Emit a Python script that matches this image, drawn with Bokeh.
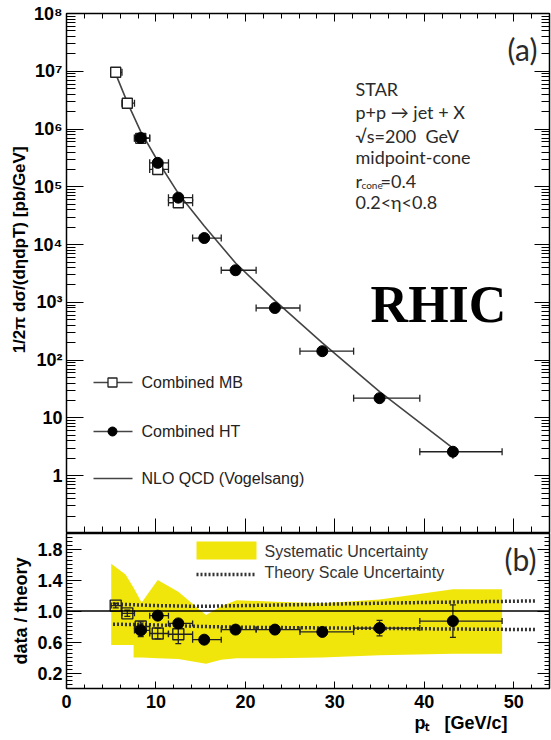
import math
from bokeh.plotting import figure
from bokeh.layouts import column
from bokeh.models import (ColumnDataSource, FixedTicker, LinearAxis, LogAxis,
                          Label, Span, Range1d, Title)
from bokeh.embed import file_html
from bokeh.resources import INLINE

# ---- jet pT bins [GeV/c] ----
bin_lo = [5.0, 6.2, 7.6, 9.3, 11.4, 14.1, 17.3, 21.2, 26.1, 32.1, 39.5]
bin_hi = [6.2, 7.6, 9.3, 11.4, 14.1, 17.3, 21.2, 26.1, 32.1, 39.5, 48.7]
pt_center = [5.5, 6.8, 8.3, 10.2, 12.5, 15.4, 18.9, 23.3, 28.6, 35.0, 43.2]

# minimum-bias sample covers the first five bins, high-tower bins 3..11
mb_bins = [0, 1, 2, 3, 4]
ht_bins = [2, 3, 4, 5, 6, 7, 8, 9, 10]

# cross sections [pb/GeV]
mb_xsec = [9.6e6, 2.8e6, 6.9e5, 2.0e5, 5.3e4]
ht_xsec = [7.0e5, 2.6e5, 6.5e4, 1.3e4, 3.6e3, 800.0, 143.0, 22.0, 2.6]
nlo_xsec = [9.0e6, 2.9e6, 9.0e5, 2.8e5, 7.7e4, 2.1e4, 4.8e3, 1070.0, 199.0, 28.6, 3.0]

# data / theory
mb_ratio = [1.07, 0.97, 0.80, 0.71, 0.70]
mb_ratio_err = [0.03, 0.04, 0.06, 0.07, 0.12]
ht_ratio = [0.75, 0.94, 0.84, 0.63, 0.76, 0.76, 0.73, 0.78, 0.87]
ht_ratio_err = [0.08, 0.04, 0.05, 0.03, 0.03, 0.03, 0.03, 0.10, 0.21]

# systematic uncertainty band on data / theory
sys_pt = [5.0, 6.6, 7.5, 7.5, 8.4, 10.2, 12.5, 15.6, 17.3, 19.0, 23.3, 28.6, 35.0, 43.2, 48.7]
sys_upper = [1.61, 1.47, 1.30, 1.30, 1.11, 1.40, 1.25, 0.95, 1.06, 1.14, 1.12, 1.10, 1.15, 1.28, 1.28]
sys_lower = [0.56, 0.56, 0.56, 0.40, 0.40, 0.39, 0.38, 0.32, 0.37, 0.39, 0.39, 0.40, 0.43, 0.45, 0.45]

# NLO scale uncertainty (relative to central theory)
scale_pt = [5.2, 10.0, 15.0, 20.0, 30.0, 40.0, 52.4]
scale_upper = [1.09, 1.07, 1.06, 1.07, 1.09, 1.11, 1.13]
scale_lower = [0.83, 0.82, 0.80, 0.79, 0.78, 0.77, 0.76]

# axis ticks
x_major = [0, 10, 20, 30, 40, 50]
x_minor = [v for v in range(0, 55, 2) if v % 10]
y_log_major = [1, 10, 1e2, 1e3, 1e4, 1e5, 1e6, 1e7, 1e8]
y_log_labels = ["1", "10", "10²", "10³", "10⁴", "10⁵", "10⁶", "10⁷", "10⁸"]
y_log_minor = [k * 10.0 ** e for e in range(-1, 8) for k in range(2, 10)]
ratio_major = [0.2, 0.6, 1.0, 1.4, 1.8]
ratio_labels = ["0.2", "0.6", "1.0", "1.4", "1.8"]
ratio_minor = [round(0.05 * i, 2) for i in range(1, 40)]

# ---- geometry ----
W = 551
X_MAX = 54.0
F_LEFT, F_RIGHT = 66, 549
TOP_T, TOP_B = 13, 533
BOT_B = 688
FW = F_RIGHT - F_LEFT
TOP_FH = TOP_B - TOP_T
BOT_FH = BOT_B - TOP_B
NBSP = "\u00a0"


def bx(px):
    return (px - F_LEFT) * X_MAX / FW


def ty(py):
    return 10 ** (8 - (py - TOP_T) * 9.0 / TOP_FH)


def by(py):
    return (BOT_B - py) * 2.0 / BOT_FH


AX_FONT = "Liberation Sans"
INFO_FONT = "Lato"
INK = "#222222"
YELLOW = "#f1e60c"
VERTICAL = math.pi / 2


def style_frame(p):
    p.outline_line_color = "black"
    p.outline_line_width = 1.5
    p.xgrid.visible = False
    p.ygrid.visible = False
    p.background_fill_color = "white"
    p.border_fill_color = "white"


def tick_only(axis, major_len, minor_len):
    axis.major_label_text_font_size = "1px"
    axis.major_label_text_alpha = 0
    axis.major_label_standoff = 0
    axis.major_tick_in = major_len
    axis.major_tick_out = 0
    axis.minor_tick_in = minor_len
    axis.minor_tick_out = 0
    axis.axis_line_color = "black"
    axis.major_tick_line_color = "black"
    axis.minor_tick_line_color = "black"


def labelled(axis, major_len, minor_len, standoff):
    axis.major_label_text_font = AX_FONT
    axis.major_label_text_font_style = "bold"
    axis.major_label_text_font_size = "18px"
    axis.major_label_text_color = "black"
    axis.major_label_standoff = standoff
    axis.major_tick_in = major_len
    axis.major_tick_out = 0
    axis.minor_tick_in = minor_len
    axis.minor_tick_out = 0
    axis.axis_line_color = "black"


def text(p, x, y, s, font=AX_FONT, size="16px", color=INK, **kw):
    p.add_layout(Label(x=x, y=y, text=s, text_font=font, text_font_size=size,
                       text_color=color, **kw))


# ================= top panel: cross section =================
top = figure(width=W, height=TOP_B, output_backend="svg", toolbar_location=None,
             y_axis_type="log", x_range=Range1d(0, X_MAX), y_range=Range1d(0.1, 1e8),
             min_border_left=F_LEFT, min_border_right=W - F_RIGHT,
             min_border_top=TOP_T, min_border_bottom=0)
style_frame(top)

xt = FixedTicker(ticks=x_major, minor_ticks=x_minor)
yt = FixedTicker(ticks=y_log_major, minor_ticks=y_log_minor)

top.xaxis.ticker = xt
tick_only(top.xaxis[0], 15, 7)

ya = top.yaxis[0]
ya.ticker = yt
ya.major_label_overrides = {float(v): s for v, s in zip(y_log_major, y_log_labels)}
labelled(ya, 17, 9, 4)

ra = LogAxis(ticker=yt)
tick_only(ra, 15, 8)
top.add_layout(ra, "right")
ta = LinearAxis(ticker=xt)
tick_only(ta, 8, 5)
top.add_layout(ta, "above")

top.add_layout(Title(text=NBSP * 10 + "1/2π dσ/(dηdpT) [pb/GeV]", align="center", offset=74,
                     standoff=3, text_font=AX_FONT, text_font_size="17px",
                     text_font_style="bold", text_color="black"), "left")

# NLO curve
top.line(pt_center, nlo_xsec, line_color="#444444", line_width=1.6)


def xsec_source(idx, xs, ratio, rerr):
    pts = [pt_center[i] for i in idx]
    lo = [bin_lo[i] for i in idx]
    hi = [bin_hi[i] for i in idx]
    rel = [e / r for e, r in zip(rerr, ratio)]
    return ColumnDataSource(dict(
        x=pts, y=xs, lo=lo, hi=hi,
        ylo=[v * (1 - f) for v, f in zip(xs, rel)],
        yhi=[v * (1 + f) for v, f in zip(xs, rel)]))


mb_src = xsec_source(mb_bins, mb_xsec, mb_ratio, mb_ratio_err)
ht_src = xsec_source(ht_bins, ht_xsec, ht_ratio, ht_ratio_err)

for src in (mb_src, ht_src):
    top.segment(x0="lo", y0="y", x1="hi", y1="y", source=src, line_color=INK, line_width=1.3)
    top.segment(x0="x", y0="ylo", x1="x", y1="yhi", source=src, line_color=INK, line_width=1.3)
    for col in ("lo", "hi"):
        top.scatter(x=col, y="y", source=src, marker="dash", angle=VERTICAL, size=7,
                    line_color=INK, line_width=1.3)

top.scatter(x="x", y="y", source=mb_src, marker="square", size=10,
            fill_color="white", line_color=INK, line_width=1.4)
top.scatter(x="x", y="y", source=ht_src, marker="circle", size=11,
            fill_color="black", line_color="black")

# legend
leg_rows = [(382, "Combined MB"), (431, "Combined HT"), (478, "NLO QCD (Vogelsang)")]
for py, s in leg_rows:
    top.segment(x0=bx(93), y0=ty(py), x1=bx(132), y1=ty(py), line_color="#444444", line_width=1.6)
    text(top, bx(141), ty(py), s, text_baseline="middle")
top.scatter(x=[bx(112)], y=[ty(382)], marker="square", size=9,
            fill_color="white", line_color=INK, line_width=1.3)
top.scatter(x=[bx(112)], y=[ty(431)], marker="circle", size=9,
            fill_color="black", line_color="black")

# info block
info = [(88, "STAR"), (111.7, "p+p → jet + X"), (135, "√s=200" + NBSP + NBSP + "GeV"),
        (156.7, "midpoint-cone"), (201.7, "0.2<η<0.8")]
for py, s in info:
    text(top, bx(355), ty(py), s, font=INFO_FONT, size="18px", color="#2a2a2a",
         text_baseline="middle")
text(top, bx(355), ty(180), "r", font=INFO_FONT, size="18px", color="#2a2a2a", text_baseline="middle")
text(top, bx(361), ty(184), "cone", font=INFO_FONT, size="10px", color="#2a2a2a", text_baseline="middle")
text(top, bx(380), ty(180), "=0.4", font=INFO_FONT, size="18px", color="#2a2a2a", text_baseline="middle")

text(top, bx(522), ty(48), "(a)", font=INFO_FONT, size="30px", color="#2a2a2a",
     text_align="center", text_baseline="middle")

text(top, bx(438), ty(304), "RHIC", font="Liberation Serif", size="52px", color="black",
     text_align="center", text_baseline="middle", text_font_style="bold")

# ================= bottom panel: data / theory =================
bot = figure(width=W, height=740 - TOP_B, output_backend="svg", toolbar_location=None,
             x_range=top.x_range, y_range=Range1d(0, 2.0),
             min_border_left=F_LEFT, min_border_right=W - F_RIGHT,
             min_border_top=0, min_border_bottom=740 - BOT_B)
style_frame(bot)

bxa = bot.xaxis[0]
bxa.ticker = xt
labelled(bxa, 7, 4, 6)

rt = FixedTicker(ticks=ratio_major, minor_ticks=ratio_minor)
bya = bot.yaxis[0]
bya.ticker = rt
bya.major_label_overrides = {float(v): s for v, s in zip(ratio_major, ratio_labels)}
labelled(bya, 15, 6, 4)
bya.axis_label = "data / theory"
bya.axis_label_text_font = AX_FONT
bya.axis_label_text_font_style = "bold"
bya.axis_label_text_font_size = "18px"
bya.axis_label_text_color = "black"
bya.axis_label_standoff = 3

bra = LinearAxis(ticker=rt)
tick_only(bra, 12, 5)
bot.add_layout(bra, "right")

bot.add_layout(Title(text="pₜ" + NBSP * 3 + "[GeV/c]", align="right", offset=42, standoff=0,
                     text_font=AX_FONT, text_font_size="18px", text_font_style="bold",
                     text_color="black"), "below")

# systematic band
bot.varea(x=sys_pt, y1=sys_lower, y2=sys_upper, fill_color=YELLOW)

# theory scale uncertainty
DOT = dict(line_color="#333333", line_width=3.5, line_dash="2 2")
bot.line(scale_pt, scale_upper, **DOT)
bot.line(scale_pt, scale_lower, **DOT)

bot.add_layout(Span(location=1.0, dimension="width", line_color="black", line_width=1.5))


def ratio_source(idx, r, e):
    return ColumnDataSource(dict(
        x=[pt_center[i] for i in idx], y=r,
        lo=[bin_lo[i] for i in idx], hi=[bin_hi[i] for i in idx],
        ylo=[a - b for a, b in zip(r, e)], yhi=[a + b for a, b in zip(r, e)]))


mbr = ratio_source(mb_bins, mb_ratio, mb_ratio_err)
htr = ratio_source(ht_bins, ht_ratio, ht_ratio_err)
for src in (mbr, htr):
    bot.segment(x0="lo", y0="y", x1="hi", y1="y", source=src, line_color=INK, line_width=1.3)
    bot.segment(x0="x", y0="ylo", x1="x", y1="yhi", source=src, line_color=INK, line_width=1.3)
    for col in ("lo", "hi"):
        bot.scatter(x=col, y="y", source=src, marker="dash", angle=VERTICAL, size=6,
                    line_color=INK, line_width=1.3)
    for col in ("ylo", "yhi"):
        bot.scatter(x="x", y=col, source=src, marker="dash", size=6,
                    line_color=INK, line_width=1.3)

bot.scatter(x="x", y="y", source=mbr, marker="square", size=11,
            fill_color=None, line_color=INK, line_width=1.4)
bot.scatter(x="x", y="y", source=htr, marker="circle", size=11,
            fill_color="black", line_color="black")

# legend
bot.quad(left=bx(196), right=bx(256), top=by(541), bottom=by(559), fill_color=YELLOW, line_color=None)
bot.segment(x0=bx(196), y0=by(574), x1=bx(256), y1=by(574), **DOT)
for py, s in [(551, "Systematic Uncertainty"), (572, "Theory Scale Uncertainty")]:
    text(bot, bx(264), by(py), s, color="#333333", text_baseline="middle")

text(bot, bx(520), by(558), "(b)", font=INFO_FONT, size="30px", color="#2a2a2a",
     text_align="center", text_baseline="middle")

layout = column(top, bot, spacing=0)
open("out.html", "w").write(file_html(layout, INLINE))
